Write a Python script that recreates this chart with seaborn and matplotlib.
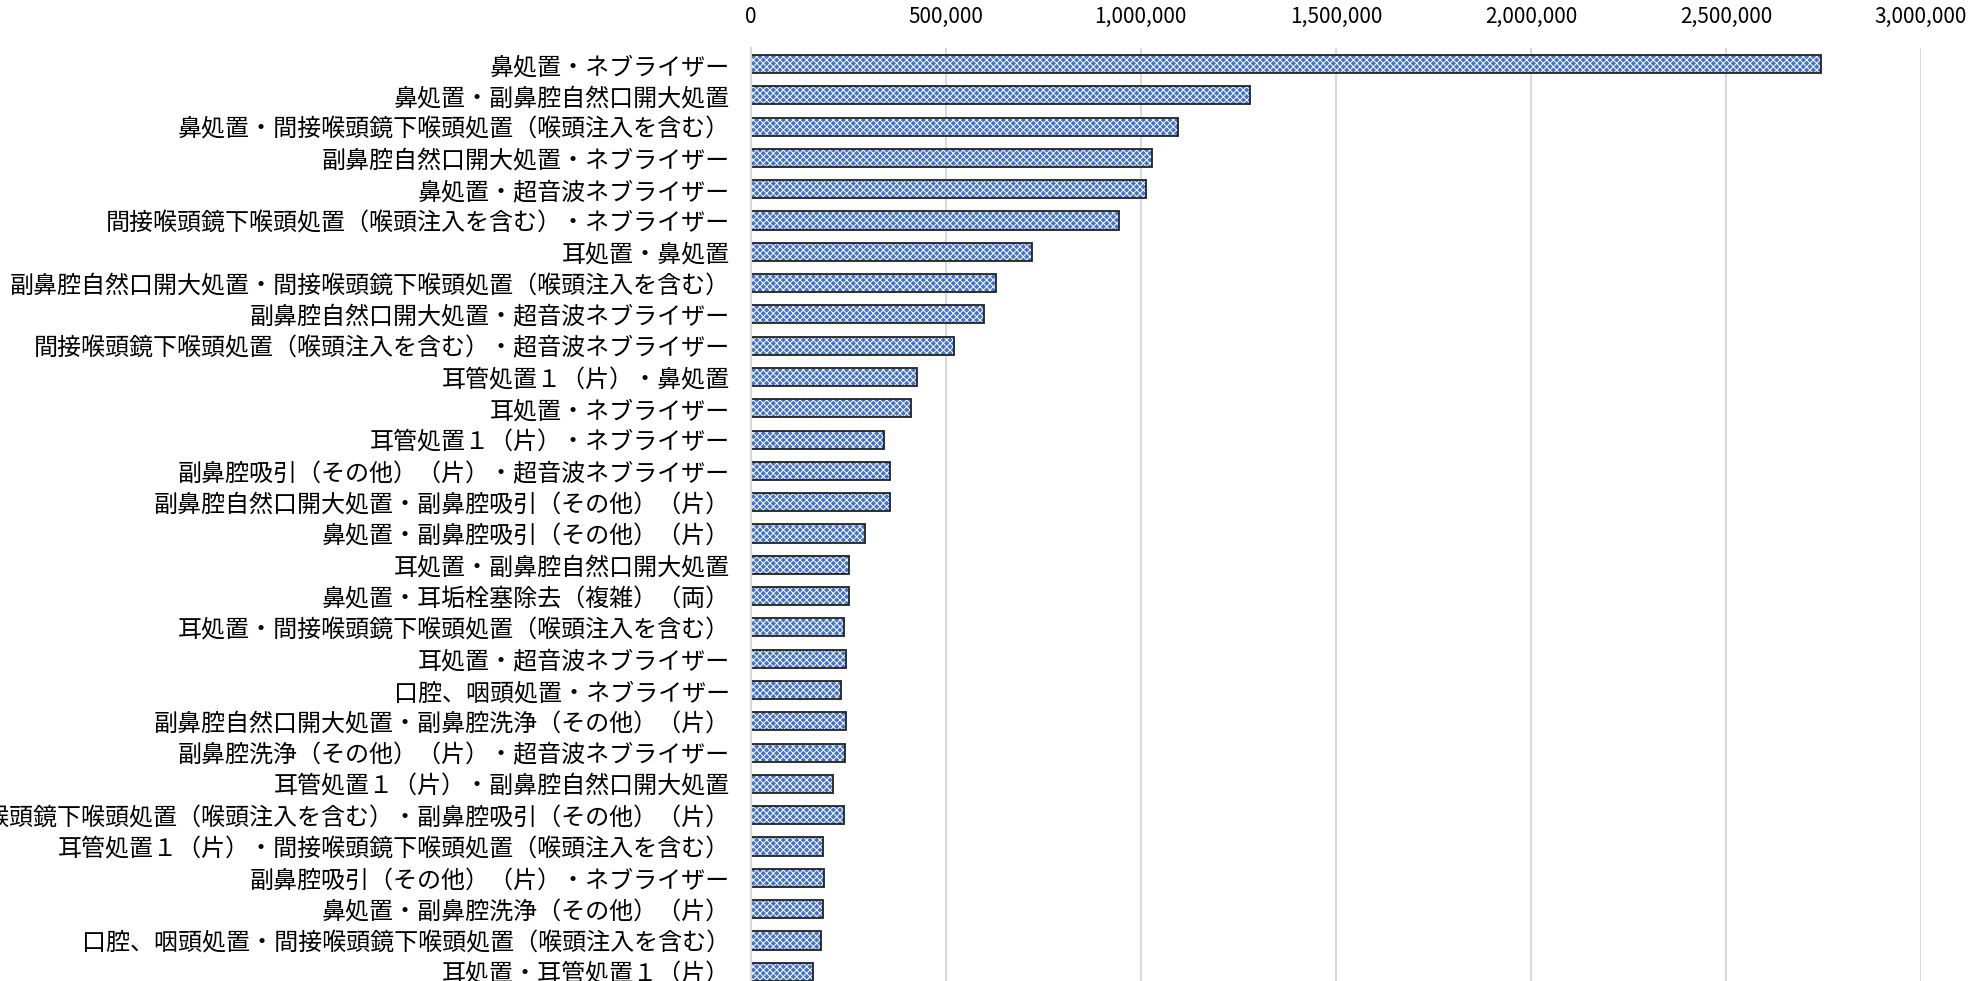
import matplotlib
matplotlib.use("Agg")
import matplotlib.pyplot as plt
import seaborn as sns
import pandas as pd
from matplotlib.ticker import FuncFormatter

categories = [
    "鼻処置・ネブライザー",
    "鼻処置・副鼻腔自然口開大処置",
    "鼻処置・間接喉頭鏡下喉頭処置（喉頭注入を含む）",
    "副鼻腔自然口開大処置・ネブライザー",
    "鼻処置・超音波ネブライザー",
    "間接喉頭鏡下喉頭処置（喉頭注入を含む）・ネブライザー",
    "耳処置・鼻処置",
    "副鼻腔自然口開大処置・間接喉頭鏡下喉頭処置（喉頭注入を含む）",
    "副鼻腔自然口開大処置・超音波ネブライザー",
    "間接喉頭鏡下喉頭処置（喉頭注入を含む）・超音波ネブライザー",
    "耳管処置１（片）・鼻処置",
    "耳処置・ネブライザー",
    "耳管処置１（片）・ネブライザー",
    "副鼻腔吸引（その他）（片）・超音波ネブライザー",
    "副鼻腔自然口開大処置・副鼻腔吸引（その他）（片）",
    "鼻処置・副鼻腔吸引（その他）（片）",
    "耳処置・副鼻腔自然口開大処置",
    "鼻処置・耳垢栓塞除去（複雑）（両）",
    "耳処置・間接喉頭鏡下喉頭処置（喉頭注入を含む）",
    "耳処置・超音波ネブライザー",
    "口腔、咽頭処置・ネブライザー",
    "副鼻腔自然口開大処置・副鼻腔洗浄（その他）（片）",
    "副鼻腔洗浄（その他）（片）・超音波ネブライザー",
    "耳管処置１（片）・副鼻腔自然口開大処置",
    "間接喉頭鏡下喉頭処置（喉頭注入を含む）・副鼻腔吸引（その他）（片）",
    "耳管処置１（片）・間接喉頭鏡下喉頭処置（喉頭注入を含む）",
    "副鼻腔吸引（その他）（片）・ネブライザー",
    "鼻処置・副鼻腔洗浄（その他）（片）",
    "口腔、咽頭処置・間接喉頭鏡下喉頭処置（喉頭注入を含む）",
    "耳処置・耳管処置１（片）",
]
values = [
    2744000, 1279000, 1095000, 1030000, 1014000, 943000, 720000, 630000,
    598000, 520000, 426000, 410000, 342000, 358000, 357000, 294000,
    252000, 252000, 239000, 245000, 232000, 245000, 242000, 210000,
    239000, 186000, 188000, 185000, 180000, 160000,
]
xticks = [0, 500000, 1000000, 1500000, 2000000, 2500000, 3000000]

df = pd.DataFrame({"category": categories, "value": values})

sns.set_theme(style="white")
plt.rcParams["font.family"] = ["Noto Sans CJK JP", "DejaVu Sans"]
plt.rcParams["hatch.linewidth"] = 0.7

fig = plt.figure(figsize=(19.79, 9.81), dpi=100)
ax = fig.add_axes([0.3793, -0.0065, 0.5914, 0.9572])

sns.barplot(data=df, x="value", y="category", orient="h", ax=ax,
            color="#4472c4", edgecolor="white", linewidth=0, hatch="xxxxx",
            width=0.58, saturation=1)
sns.barplot(data=df, x="value", y="category", orient="h", ax=ax,
            fill=False, edgecolor="#222222", linewidth=1.3, width=0.58,
            saturation=1)

ax.set_xlim(0, 3000000)
ax.set_ylim(len(categories) - 0.5, -0.5)
ax.set_xticks(xticks)
ax.xaxis.set_major_formatter(FuncFormatter(lambda v, p: f"{int(v):,}"))
ax.xaxis.tick_top()
ax.xaxis.set_label_position("top")
ax.set_xlabel("")
ax.set_ylabel("")
ax.grid(axis="x", color="#d9d9d9", linewidth=1.5)
ax.set_axisbelow(True)
for s in ["top", "right", "bottom"]:
    ax.spines[s].set_visible(False)
ax.spines["left"].set_color("#d9d9d9")
ax.spines["left"].set_linewidth(1.5)
ax.tick_params(axis="x", length=0, pad=15, labelsize=15, colors="black")
ax.tick_params(axis="y", length=0, pad=15, labelsize=17.3, colors="black")

fig.savefig("out.png", dpi=100)
